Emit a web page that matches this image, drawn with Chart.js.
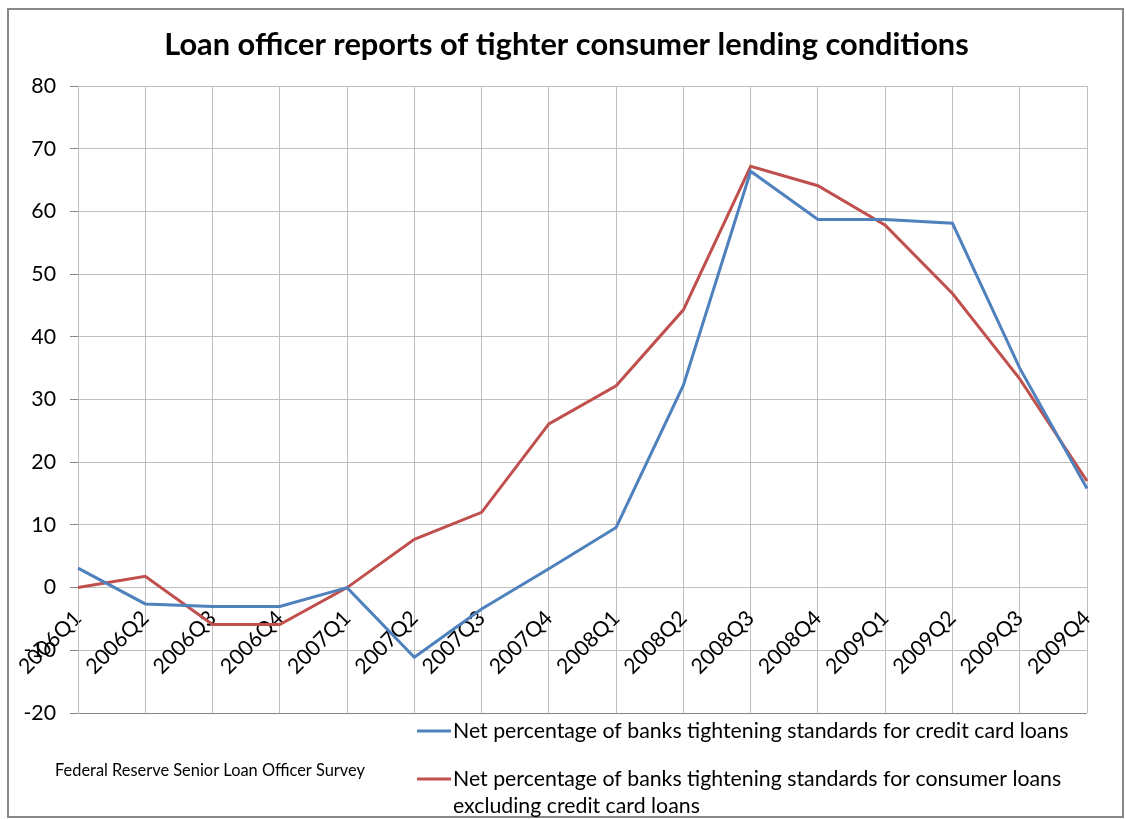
<!DOCTYPE html>
<html>
<head>
<meta charset="utf-8">
<script src="https://cdn.jsdelivr.net/npm/chart.js@4"></script>
<style>
  html, body { margin: 0; padding: 0; background: #fff; }
  canvas { display: block; }
</style>
</head>
<body>
<canvas id="c" width="1126" height="819"></canvas>
<script>
const chartTitle = "Loan officer reports of tighter consumer lending conditions";
const sourceNote = "Federal Reserve Senior Loan Officer Survey";
const quarters = ["2006Q1","2006Q2","2006Q3","2006Q4","2007Q1","2007Q2","2007Q3","2007Q4",
                  "2008Q1","2008Q2","2008Q3","2008Q4","2009Q1","2009Q2","2009Q3","2009Q4"];
const creditCardLabel = "Net percentage of banks tightening standards for credit card loans";
const creditCard = [3.1, -2.6, -3.0, -3.0, 0, -11.1, -3.4, 3.0, 9.6, 32.3, 66.4, 58.7, 58.7, 58.1, 35.0, 15.8];
const consumerLabel = ["Net percentage of banks tightening standards for consumer loans", "excluding credit card loans"];
const consumer = [0, 1.8, -5.9, -5.9, 0, 7.7, 12.0, 26.1, 32.2, 44.3, 67.2, 64.1, 57.8, 46.9, 33.3, 17.0];
const yMin = -20, yMax = 80, yStep = 10;

const FONT = "Lato, 'Open Sans', sans-serif";

const decorPlugin = {
  id: 'decor',
  afterDraw(chart) {
    const ctx = chart.ctx;
    ctx.save();
    // outer frame
    ctx.strokeStyle = '#878787';
    ctx.lineWidth = 2;
    ctx.strokeRect(8, 9, 1115, 808);
    // title
    ctx.fillStyle = '#000';
    ctx.font = "bold 30.8px " + FONT;
    ctx.textAlign = 'center';
    ctx.textBaseline = 'middle';
    ctx.fillText(chartTitle, 566.5, 45);
    // legend
    const items = chart.data.datasets;
    const rows = [731, 779];
    ctx.font = "21.3px " + FONT;
    ctx.textAlign = 'left';
    items.forEach((ds, i) => {
      const y = rows[i];
      ctx.strokeStyle = ds.borderColor;
      ctx.lineWidth = 3;
      ctx.beginPath();
      ctx.moveTo(417, y);
      ctx.lineTo(451, y);
      ctx.stroke();
      ctx.fillStyle = '#000';
      const lines = Array.isArray(ds.label) ? ds.label : [ds.label];
      lines.forEach((t, k) => ctx.fillText(t, 453, y + k * 27));
    });
    // source note
    ctx.font = "16.4px " + FONT;
    ctx.fillText(sourceNote, 55, 771);
    ctx.restore();
  }
};

new Chart(document.getElementById('c'), {
  type: 'line',
  data: {
    labels: quarters,
    datasets: [
      { label: creditCardLabel, data: creditCard, borderColor: '#4F81BD', backgroundColor: '#4F81BD',
        borderWidth: 3, pointRadius: 0, tension: 0, fill: false },
      { label: consumerLabel, data: consumer, borderColor: '#C0504D', backgroundColor: '#C0504D',
        borderWidth: 3, pointRadius: 0, tension: 0, fill: false }
    ]
  },
  options: {
    responsive: false,
    animation: false,
    layout: { padding: { left: 0, right: 39, top: 86, bottom: 106 } },
    plugins: {
      legend: { display: false },
      tooltip: { enabled: false },
      title: { display: false }
    },
    scales: {
      x: {
        type: 'category',
        position: { y: 0 },
        offset: false,
        afterFit(s) { s.height = 0; },
        grid: { color: '#BFBFBF', lineWidth: 1, drawTicks: false },
        border: { display: true, color: '#BFBFBF', width: 1 },
        ticks: {
          autoSkip: false, maxRotation: 45, minRotation: 45, padding: 18,
          color: '#000', font: { family: FONT, size: 21.3 }
        }
      },
      y: {
        min: yMin, max: yMax,
        afterFit(s) { s.width = 78; },
        grid: {
          color: ctx => (ctx.tick && ctx.tick.value === yMin) ? '#868686' : '#BFBFBF',
          tickColor: '#868686', tickLength: 8, lineWidth: 1
        },
        border: { display: true, color: '#BFBFBF', width: 1 },
        ticks: { stepSize: yStep, padding: 14, color: '#000', font: { family: FONT, size: 21.3 } }
      }
    }
  },
  plugins: [decorPlugin]
});
</script>
</body>
</html>
